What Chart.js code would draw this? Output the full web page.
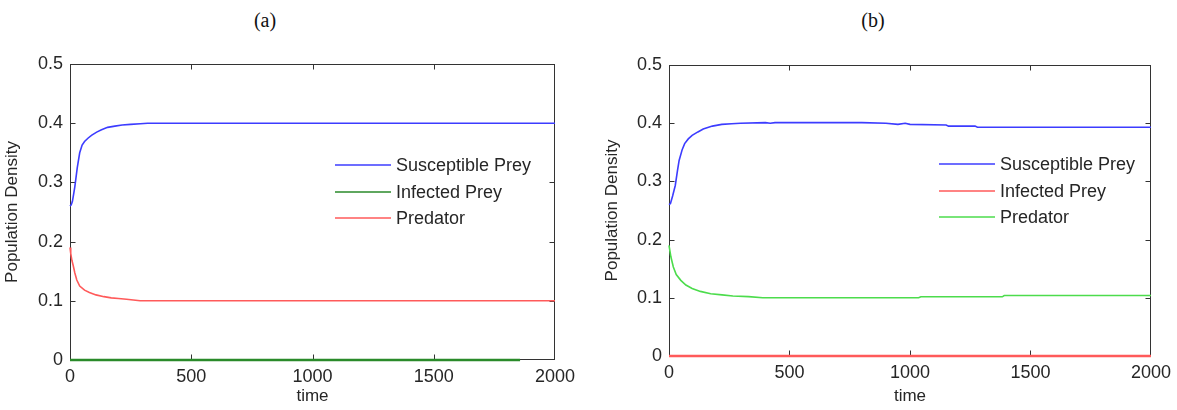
<!DOCTYPE html>
<html>
<head>
<meta charset="utf-8">
<script src="https://cdn.jsdelivr.net/npm/chart.js@4.4.1/dist/chart.umd.min.js"></script>
<style>
  body { margin: 0; background: #fff; }
  #wrap { position: relative; width: 1177px; height: 410px; overflow: hidden; }
  .panel { position: absolute; top: 0; height: 410px; }
  .tag { position: absolute; top: 9px; font-family: 'Liberation Serif', 'Times New Roman', serif; font-size: 20px; color: #111; transform: translateX(-50%); }
</style>
</head>
<body>
<div id="wrap">
  <div class="tag" style="left:265px">(a)</div>
  <div class="tag" style="left:873px">(b)</div>
  <div class="panel" style="left:0; width:590px"><canvas id="chartA"></canvas></div>
  <div class="panel" style="left:590px; width:587px"><canvas id="chartB"></canvas></div>
</div>
<script>
// series names
var seriesNames = ['Susceptible Prey', 'Infected Prey', 'Predator'];

// tick labels
var xTickLabels = ['0', '500', '1000', '1500', '2000'];
var yTickLabels = ['0', '0.1', '0.2', '0.3', '0.4', '0.5'];

// panel (a)
var timeSusA = [0, 5, 10, 15, 20, 30, 40, 50, 60, 75, 90, 110, 130, 155, 185, 215, 250, 290, 320, 2000];
var susA = [0.26, 0.262, 0.268, 0.28, 0.293, 0.325, 0.35, 0.363, 0.369, 0.375, 0.38, 0.385, 0.389, 0.393, 0.395, 0.397, 0.398, 0.399, 0.4, 0.4];
var timeInfA = [0, 1856];
var infA = [0, 0];
var timePredA = [0, 3, 8, 13, 20, 28, 40, 60, 80, 107, 140, 170, 200, 233, 289, 2000];
var predA = [0.19, 0.18, 0.168, 0.16, 0.147, 0.135, 0.125, 0.118, 0.114, 0.11, 0.107, 0.105, 0.104, 0.1026, 0.1, 0.1];

// panel (b)
var timeSusB = [0, 6, 15, 26, 35, 42, 55, 65, 80, 96, 120, 142, 180, 219, 260, 296, 400, 420, 440, 600, 800, 900, 950, 980, 1000, 1150, 1160, 1270, 1280, 2000];
var susB = [0.26, 0.262, 0.275, 0.293, 0.318, 0.336, 0.355, 0.365, 0.373, 0.379, 0.385, 0.39, 0.395, 0.398, 0.399, 0.4, 0.401, 0.4, 0.401, 0.401, 0.401, 0.4, 0.398, 0.4, 0.398, 0.397, 0.395, 0.395, 0.393, 0.393];
var timeInfB = [0, 2000];
var infB = [0, 0];
var timePredB = [0, 8, 18, 30, 49, 70, 96, 130, 173, 220, 265, 330, 389, 1036, 1045, 1383, 1391, 2000];
var predB = [0.19, 0.17, 0.153, 0.14, 0.13, 0.122, 0.116, 0.111, 0.107, 0.105, 0.103, 0.102, 0.1, 0.1, 0.1017, 0.1017, 0.104, 0.104];

var FONT = "'Liberation Sans', Arial, sans-serif";
var INK = '#262626';

function toPoints(times, values) {
    return times.map(function(t, i) { return { x: t, y: values[i] }; });
}

// axes box with inward ticks on all four sides, MATLAB style
var boxPlugin = {
    id: 'matlabBox',
    beforeDatasetsDraw: function(chart) {
        var ctx = chart.ctx;
        var a = chart.chartArea;
        var L = Math.round(a.left) + 0.5, R = Math.round(a.right) - 0.5;
        var T = Math.round(a.top) + 0.5, B = Math.round(a.bottom) - 0.5;
        ctx.save();
        ctx.strokeStyle = '#333';
        ctx.lineWidth = 1;
        ctx.strokeRect(L, T, R - L, B - T);
        ctx.beginPath();
        chart.scales.x.ticks.forEach(function(t) {
            var px = Math.round(chart.scales.x.getPixelForValue(t.value)) + 0.5;
            if (px <= L + 1 || px >= R - 1) return;
            ctx.moveTo(px, B); ctx.lineTo(px, B - 5);
            ctx.moveTo(px, T); ctx.lineTo(px, T + 5);
        });
        chart.scales.y.ticks.forEach(function(t) {
            var py = Math.round(chart.scales.y.getPixelForValue(t.value)) + 0.5;
            if (py <= T + 1 || py >= B - 1) return;
            ctx.moveTo(L, py); ctx.lineTo(L + 5, py);
            ctx.moveTo(R, py); ctx.lineTo(R - 5, py);
        });
        ctx.stroke();
        ctx.restore();
    },
    afterDraw: function(chart) {
        // legend inside the axes
        var lg = chart.options.plugins.matlabBox;
        var ctx = chart.ctx;
        ctx.save();
        ctx.font = '18px ' + FONT;
        ctx.textBaseline = 'middle';
        chart.data.datasets.forEach(function(ds, i) {
            var y = lg.rows[i];
            ctx.strokeStyle = ds.borderColor;
            ctx.lineWidth = 1.5;
            ctx.beginPath();
            ctx.moveTo(lg.x0, y);
            ctx.lineTo(lg.x1, y);
            ctx.stroke();
            ctx.fillStyle = INK;
            ctx.fillText(ds.label, lg.tx, y + 1);
        });
        ctx.restore();
    }
};

function makeChart(id, sets, colors, geo) {
    var ctx = document.getElementById(id).getContext('2d');
    return new Chart(ctx, {
        type: 'line',
        data: {
            datasets: sets.map(function(s, i) {
                return {
                    label: seriesNames[i],
                    data: toPoints(s[0], s[1]),
                    borderColor: colors[i],
                    borderWidth: i === 1 ? 2.5 : 1.6,
                    pointRadius: 0,
                    tension: 0,
                    fill: false,
                    clip: false
                };
            })
        },
        options: {
            responsive: true,
            maintainAspectRatio: false,
            animation: false,
            layout: { padding: { left: 0, right: geo.padRight, top: geo.top, bottom: 0 } },
            plugins: {
                legend: { display: false },
                tooltip: { enabled: false },
                matlabBox: geo.legend
            },
            scales: {
                x: {
                    type: 'linear',
                    min: 0,
                    max: 2000,
                    grid: { display: false, drawTicks: false },
                    border: { display: false },
                    ticks: {
                        stepSize: 500,
                        padding: 6,
                        color: INK,
                        font: { family: FONT, size: 18 },
                        maxRotation: 0,
                        callback: function(v, i) { return xTickLabels[i]; }
                    },
                    title: {
                        display: true,
                        text: 'time',
                        color: INK,
                        font: { family: FONT, size: 17 },
                        padding: { top: 0, bottom: 3 }
                    },
                    afterFit: function(scale) { scale.height = geo.xHeight; }
                },
                y: {
                    min: 0,
                    max: 0.5,
                    grid: { display: false, drawTicks: false },
                    border: { display: false },
                    ticks: {
                        stepSize: 0.1,
                        padding: 7,
                        color: INK,
                        font: { family: FONT, size: 18 },
                        callback: function(v, i) { return yTickLabels[i]; }
                    },
                    title: {
                        display: true,
                        text: 'Population Density',
                        color: INK,
                        font: { family: FONT, size: 17 },
                        padding: { top: geo.titlePad, bottom: 0 }
                    },
                    afterFit: function(scale) { scale.width = geo.yWidth; }
                }
            }
        },
        plugins: [boxPlugin]
    });
}

makeChart('chartA',
    [[timeSusA, susA], [timeInfA, infA], [timePredA, predA]],
    ['#3c3cff', '#2a8a2a', '#ff5a5a'],
    { padRight: 35, top: 64, xHeight: 50, yWidth: 70, titlePad: 2,
      legend: { x0: 335, x1: 391, tx: 396, rows: [165, 192, 218] } });

makeChart('chartB',
    [[timeSusB, susB], [timeInfB, infB], [timePredB, predB]],
    ['#3c3cff', '#ff5a5a', '#4cdc4c'],
    { padRight: 24, top: 65, xHeight: 54, yWidth: 79, titlePad: 12,
      legend: { x0: 349, x1: 405, tx: 410, rows: [164, 191, 217] } });
</script>
</body>
</html>
